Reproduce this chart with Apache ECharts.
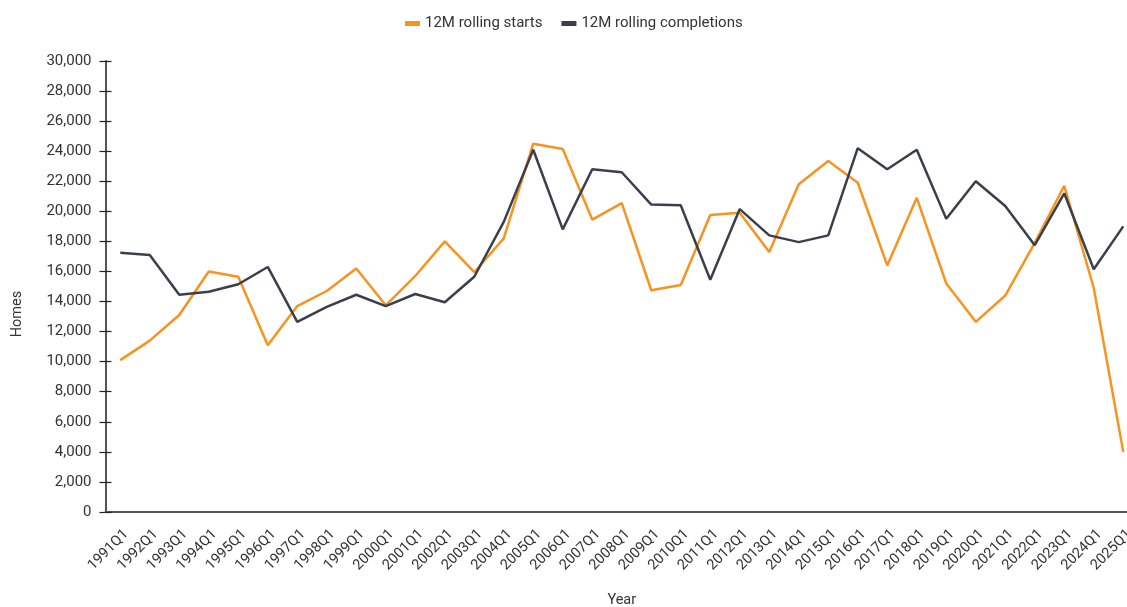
<!DOCTYPE html>
<html>
<head>
<meta charset="utf-8">
<script src="https://cdn.jsdelivr.net/npm/echarts@6/dist/echarts.min.js"></script>
<style>html,body{margin:0;padding:0;background:#fff}#c{width:1127px;height:607px}</style>
</head>
<body>
<div id="c"></div>
<script>
const categories = ['1991Q1','1992Q1','1993Q1','1994Q1','1995Q1','1996Q1','1997Q1','1998Q1','1999Q1','2000Q1','2001Q1','2002Q1','2003Q1','2004Q1','2005Q1','2006Q1','2007Q1','2008Q1','2009Q1','2010Q1','2011Q1','2012Q1','2013Q1','2014Q1','2015Q1','2016Q1','2017Q1','2018Q1','2019Q1','2020Q1','2021Q1','2022Q1','2023Q1','2024Q1','2025Q1'];
const starts = [10100,11400,13100,16000,15650,11100,13700,14700,16200,13750,15700,18000,15950,18200,24500,24150,19450,20550,14750,15100,19750,19900,17300,21800,23350,21900,16400,20900,15200,12650,14400,17900,21700,14900,4000];
const completions = [17250,17100,14450,14650,15150,16300,12650,13650,14450,13700,14500,13950,15650,19300,24100,18800,22800,22600,20450,20400,15450,20150,18400,17950,18400,24200,22800,24100,19500,22000,20350,17750,21200,16150,19000];
const seriesNames = ['12M rolling starts','12M rolling completions'];
const yMin = 0, yMax = 30000, yStep = 2000;

const font = 'Roboto, "Noto Sans", sans-serif';
const chart = echarts.init(document.getElementById('c'));
chart.setOption({
  animation: false,
  color: ['#F7931E', '#3A3F4B'],
  textStyle: { fontFamily: font },
  legend: {
    top: 11, left: 400,
    icon: 'rect', itemWidth: 15, itemHeight: 5, itemGap: 19,
    textStyle: { fontSize: 15, color: '#333', fontFamily: font },
    data: seriesNames
  },
  grid: { left: 105.5, right: -11, top: 61, bottom: 95, containLabel: false, outerBoundsMode: 'none' },
  xAxis: [{
    type: 'category', data: categories, boundaryGap: true,
    name: 'Year', nameLocation: 'middle', nameGap: 81,
    nameTextStyle: { fontSize: 14.5, color: '#333', fontFamily: font },
    axisLine: { lineStyle: { color: '#555', width: 2 } },
    axisTick: { alignWithLabel: true, length: 7, lineStyle: { color: '#222', width: 1.2 } },
    axisLabel: { rotate: 45, color: '#333', margin: 14, interval: 0, fontFamily: font,
      formatter: v => '{t|' + v + '}',
      rich: { t: { fontSize: 14.5, color: '#333', fontFamily: font, padding: [17, 0, 0, 0] } } }
  }, {
    type: 'category', data: categories, boundaryGap: true, position: 'bottom',
    axisLine: { show: false },
    axisTick: { inside: true, alignWithLabel: true, length: 7, lineStyle: { color: '#222', width: 1.2 } },
    axisLabel: { show: false }
  }],
  yAxis: [{
    type: 'value', min: yMin, max: yMax, interval: yStep,
    name: 'Homes', nameLocation: 'middle', nameGap: 81, nameRotate: 90,
    nameTextStyle: { fontSize: 14.5, color: '#333', fontFamily: font, padding: [0, 55, 0, 0] },
    axisLine: { show: true, lineStyle: { color: '#555', width: 2 } },
    axisTick: { show: true, length: 6, lineStyle: { color: '#222', width: 1.2 } },
    splitLine: { show: false },
    axisLabel: { fontSize: 15, color: '#333', margin: 14, fontFamily: font,
      formatter: v => v.toLocaleString('en-US') }
  }, {
    type: 'value', min: yMin, max: yMax, interval: yStep, position: 'left',
    axisLine: { show: false },
    axisTick: { show: true, inside: true, length: 6, lineStyle: { color: '#222', width: 1.2 } },
    splitLine: { show: false },
    axisLabel: { show: false }
  }],
  series: [
    { name: seriesNames[0], type: 'line', data: starts, showSymbol: false, symbol: 'none',
      lineStyle: { width: 2.5 } },
    { name: seriesNames[1], type: 'line', data: completions, showSymbol: false, symbol: 'none',
      lineStyle: { width: 2.5 } }
  ]
});
</script>
</body>
</html>
